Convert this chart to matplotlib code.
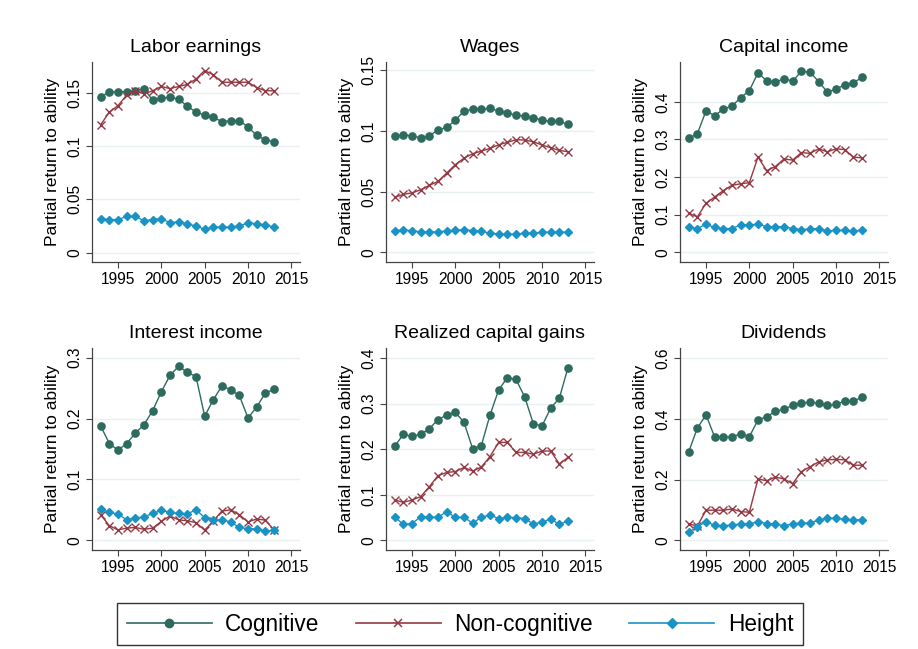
import matplotlib
matplotlib.use("Agg")
import matplotlib.pyplot as plt
from matplotlib.lines import Line2D

plt.rcParams['font.family'] = ['Liberation Sans', 'DejaVu Sans']

years = list(range(1993, 2014))

titles = ["Labor earnings", "Wages", "Capital income",
          "Interest income", "Realized capital gains", "Dividends"]

labor_cog = [0.146, 0.151, 0.151, 0.151, 0.152, 0.154, 0.143, 0.145, 0.146, 0.144, 0.1375,
             0.132, 0.129, 0.127, 0.123, 0.124, 0.124, 0.118, 0.110, 0.106, 0.104]
labor_non = [0.120, 0.132, 0.138, 0.148, 0.152, 0.149, 0.152, 0.156, 0.154, 0.156, 0.158,
             0.163, 0.171, 0.167, 0.160, 0.160, 0.160, 0.160, 0.155, 0.152, 0.152]
labor_hgt = [0.032, 0.031, 0.031, 0.034, 0.034, 0.030, 0.031, 0.032, 0.028, 0.029, 0.027,
             0.025, 0.022, 0.024, 0.024, 0.024, 0.025, 0.028, 0.027, 0.026, 0.024]

wages_cog = [0.0956, 0.097, 0.096, 0.0945, 0.096, 0.101, 0.103, 0.109, 0.1165, 0.118, 0.118,
             0.1187, 0.1165, 0.115, 0.113, 0.1126, 0.111, 0.109, 0.108, 0.108, 0.1055]
wages_non = [0.0453, 0.0478, 0.049, 0.0516, 0.0552, 0.0585, 0.0654, 0.0723, 0.0777, 0.0813, 0.0835,
             0.0857, 0.0887, 0.0907, 0.0929, 0.0926, 0.0912, 0.0885, 0.0863, 0.084, 0.083]
wages_hgt = [0.0179, 0.0184, 0.0179, 0.0168, 0.0168, 0.0168, 0.0176, 0.0181, 0.0187, 0.0179, 0.0173,
             0.0157, 0.0151, 0.0148, 0.0151, 0.0157, 0.0157, 0.0165, 0.0165, 0.0165, 0.0165]

capinc_cog = [0.303, 0.315, 0.376, 0.363, 0.381, 0.389, 0.411, 0.430, 0.477, 0.456, 0.452,
              0.462, 0.455, 0.481, 0.479, 0.454, 0.426, 0.434, 0.445, 0.451, 0.465]
capinc_non = [0.104, 0.094, 0.130, 0.147, 0.164, 0.178, 0.182, 0.185, 0.253, 0.217, 0.228,
              0.248, 0.245, 0.265, 0.263, 0.275, 0.267, 0.275, 0.273, 0.253, 0.251]
capinc_hgt = [0.066, 0.063, 0.074, 0.066, 0.063, 0.063, 0.073, 0.072, 0.075, 0.068, 0.068,
              0.068, 0.063, 0.060, 0.062, 0.063, 0.057, 0.058, 0.058, 0.056, 0.059]

int_cog = [0.188, 0.159, 0.148, 0.159, 0.176, 0.190, 0.213, 0.244, 0.271, 0.286, 0.276,
           0.269, 0.204, 0.231, 0.254, 0.247, 0.238, 0.201, 0.219, 0.242, 0.248]
int_non = [0.042, 0.024, 0.017, 0.020, 0.021, 0.018, 0.020, 0.031, 0.040, 0.0335, 0.032,
           0.029, 0.0165, 0.032, 0.048, 0.050, 0.042, 0.030, 0.035, 0.033, 0.017]
int_hgt = [0.051, 0.046, 0.043, 0.0335, 0.037, 0.038, 0.0445, 0.049, 0.046, 0.044, 0.043,
           0.0505, 0.037, 0.033, 0.034, 0.030, 0.021, 0.019, 0.019, 0.015, 0.0165]

gains_cog = [0.206, 0.233, 0.228, 0.233, 0.245, 0.265, 0.275, 0.281, 0.259, 0.201, 0.208,
             0.275, 0.330, 0.357, 0.353, 0.315, 0.256, 0.251, 0.290, 0.312, 0.379]
gains_non = [0.0886, 0.0835, 0.0886, 0.096, 0.118, 0.142, 0.149, 0.151, 0.160, 0.152, 0.161,
             0.184, 0.215, 0.215, 0.193, 0.193, 0.189, 0.196, 0.196, 0.168, 0.182]
gains_hgt = [0.052, 0.035, 0.037, 0.052, 0.051, 0.051, 0.063, 0.0505, 0.0505, 0.038, 0.051,
             0.0557, 0.048, 0.0505, 0.050, 0.048, 0.036, 0.040, 0.047, 0.035, 0.043]

div_cog = [0.291, 0.369, 0.413, 0.340, 0.341, 0.340, 0.351, 0.341, 0.396, 0.407, 0.424,
           0.432, 0.444, 0.453, 0.454, 0.451, 0.444, 0.447, 0.459, 0.458, 0.471]
div_non = [0.054, 0.047, 0.099, 0.099, 0.099, 0.103, 0.0945, 0.092, 0.202, 0.196, 0.208,
           0.202, 0.186, 0.226, 0.242, 0.258, 0.265, 0.266, 0.265, 0.247, 0.247]
div_hgt = [0.027, 0.044, 0.0615, 0.049, 0.048, 0.0505, 0.053, 0.054, 0.0615, 0.055, 0.054,
           0.048, 0.054, 0.056, 0.057, 0.067, 0.0725, 0.0725, 0.069, 0.066, 0.068]

series = [
    (labor_cog, labor_non, labor_hgt),
    (wages_cog, wages_non, wages_hgt),
    (capinc_cog, capinc_non, capinc_hgt),
    (int_cog, int_non, int_hgt),
    (gains_cog, gains_non, gains_hgt),
    (div_cog, div_non, div_hgt),
]

ytick_vals = [
    [0, 0.05, 0.1, 0.15],
    [0, 0.05, 0.1, 0.15],
    [0, 0.1, 0.2, 0.3, 0.4],
    [0, 0.1, 0.2, 0.3],
    [0, 0.1, 0.2, 0.3, 0.4],
    [0, 0.2, 0.4, 0.6],
]
ytick_labels = [
    ["0", "0.05", "0.1", "0.15"],
    ["0", "0.05", "0.1", "0.15"],
    ["0", "0.1", "0.2", "0.3", "0.4"],
    ["0", "0.1", "0.2", "0.3"],
    ["0", "0.1", "0.2", "0.3", "0.4"],
    ["0", "0.2", "0.4", "0.6"],
]
ylims = [(-0.0088, 0.179), (-0.008, 0.157), (-0.026, 0.506),
         (-0.016, 0.316), (-0.021, 0.422), (-0.032, 0.633)]

xticks = [1995, 2000, 2005, 2010, 2015]
series_names = ["Cognitive", "Non-cognitive", "Height"]

col_cog = "#2D6B5F"
col_non = "#943943"
col_hgt = "#1A93C4"
grid_col = "#E8F0F1"
axis_col = "#444444"

W, H = 918, 649
fig = plt.figure(figsize=(W / 100, H / 100), dpi=100)

lefts = [92, 386, 680]
tops = [62, 348]
heights = [200, 202]
width = 208

for i in range(6):
    r, c = divmod(i, 3)
    ax = fig.add_axes([lefts[c] / W, 1 - (tops[r] + heights[r]) / H, width / W, heights[r] / H])
    cog, non, hgt = series[i]
    ax.plot(years, cog, color=col_cog, lw=1.0, marker='o', ms=5.2, mec=col_cog, mfc=col_cog, zorder=3)
    ax.plot(years, non, color=col_non, lw=1.0, marker='x', ms=5.5, mew=1.0, zorder=3)
    ax.plot(years, hgt, color=col_hgt, lw=1.0, marker='D', ms=4.2, mec=col_hgt, mfc=col_hgt, zorder=3)
    ax.set_xlim(1992, 2016)
    ax.set_ylim(*ylims[i])
    ax.set_xticks(xticks)
    ax.set_xticklabels([str(x) for x in xticks], fontsize=11.2)
    ax.set_yticks(ytick_vals[i])
    ax.set_yticklabels(ytick_labels[i], fontsize=11.2, rotation=90, va='center')
    ax.grid(axis='y', color=grid_col, lw=1.0, zorder=0)
    ax.set_axisbelow(True)
    for s in ['top', 'right']:
        ax.spines[s].set_visible(False)
    for s in ['left', 'bottom']:
        ax.spines[s].set_color(axis_col)
        ax.spines[s].set_linewidth(0.9)
    ax.tick_params(axis='both', direction='out', length=4, width=0.8, color=axis_col, pad=3)
    ax.set_ylabel("Partial return to ability", fontsize=12.5, labelpad=5)
    ax.set_title(titles[i], fontsize=14, pad=7)

handles = [
    Line2D([], [], color=col_cog, lw=1.2, marker='o', ms=6, mfc=col_cog, mec=col_cog),
    Line2D([], [], color=col_non, lw=1.2, marker='x', ms=6, mew=1.1),
    Line2D([], [], color=col_hgt, lw=1.2, marker='D', ms=5, mfc=col_hgt, mec=col_hgt),
]
leg = fig.legend(handles, series_names, loc='center', bbox_to_anchor=(460 / W, 1 - 624 / H),
                 ncol=3, frameon=True, fontsize=16.3, handlelength=3.75, columnspacing=1.6,
                 handletextpad=0.6, borderpad=0.42, fancybox=False)
leg.get_frame().set_edgecolor('black')
leg.get_frame().set_linewidth(1.0)

fig.savefig("out.png", dpi=100, facecolor='white')
